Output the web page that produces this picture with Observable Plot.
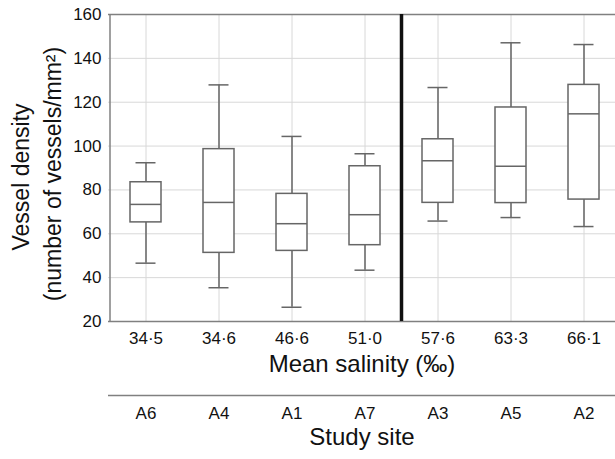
<!DOCTYPE html>
<html>
<head>
<meta charset="utf-8">
<script src="https://cdn.jsdelivr.net/npm/d3@7"></script>
<script src="https://cdn.jsdelivr.net/npm/@observablehq/plot@0.6"></script>
<style>
  html, body { margin: 0; padding: 0; background: #fff; }
</style>
</head>
<body>
<div id="chart"></div>
<script>
const sites = ["A6", "A4", "A1", "A7", "A3", "A5", "A2"];
const salinity = ["34·5", "34·6", "46·6", "51·0", "57·6", "63·3", "66·1"];
const whiskerLow = [46.6, 35.4, 26.5, 43.4, 65.8, 67.4, 63.3];
const q1 = [65.2, 51.3, 52.2, 54.8, 74.1, 74.0, 75.6];
const median = [73.4, 74.3, 64.6, 68.7, 93.3, 90.8, 114.7];
const q3 = [83.5, 98.6, 78.2, 90.8, 103.1, 117.6, 127.9];
const whiskerHigh = [92.4, 127.9, 104.4, 96.5, 126.7, 147.1, 146.3];
const yTicks = [20, 40, 60, 80, 100, 120, 140, 160];

const rows = sites.map((s, i) => ({
  site: s, lo: whiskerLow[i], q1: q1[i], med: median[i], q3: q3[i], hi: whiskerHigh[i]
}));

const boxStroke = "#666";
const frameStroke = "#808080";
const textColor = "#111";

const chart = Plot.plot({
  width: 615,
  height: 459,
  marginLeft: 108,
  marginRight: 0,
  marginTop: 14,
  marginBottom: 138,
  style: { fontFamily: "'Liberation Sans', Arial, sans-serif", fontSize: "17px", color: textColor, background: "#fff" },
  x: { type: "band", domain: sites, range: [108.5, 619.5], padding: 0 },
  y: { domain: [20, 160], range: [321, 14] },
  marks: [
    Plot.gridY(yTicks, { stroke: "#d8d8d8", strokeOpacity: 1 }),
    Plot.gridX(sites, { stroke: "#d8d8d8", strokeOpacity: 1 }),
    // frame
    Plot.ruleY([20, 160], { stroke: frameStroke, strokeWidth: 1.5 }),
    Plot.ruleX(["A6"], { x: d => d, dx: -36, y1: 20, y2: 160, stroke: frameStroke, strokeWidth: 1.5 }),
    // whiskers
    Plot.ruleX(rows, { x: "site", y1: "lo", y2: "q1", stroke: boxStroke, strokeWidth: 1.5 }),
    Plot.ruleX(rows, { x: "site", y1: "q3", y2: "hi", stroke: boxStroke, strokeWidth: 1.5 }),
    Plot.tickY(rows, { x: "site", y: "lo", stroke: boxStroke, strokeWidth: 1.5, insetLeft: 26.5, insetRight: 26.5 }),
    Plot.tickY(rows, { x: "site", y: "hi", stroke: boxStroke, strokeWidth: 1.5, insetLeft: 26.5, insetRight: 26.5 }),
    // boxes
    Plot.barY(rows, { x: "site", y1: "q1", y2: "q3", fill: "white", stroke: boxStroke, strokeWidth: 1.5, insetLeft: 21, insetRight: 21 }),
    Plot.tickY(rows, { x: "site", y: "med", stroke: boxStroke, strokeWidth: 1.5, insetLeft: 21, insetRight: 21 }),
    // thick separator
    Plot.ruleX(["A7"], { x: d => d, dx: 36.5, y1: 20, y2: 160, stroke: "#111", strokeWidth: 3.5 }),
    // axes
    Plot.axisY(yTicks, { tickSize: 0, tickPadding: 7, label: null, fontSize: 17 }),
    Plot.axisX({ tickSize: 0, tickPadding: 10, label: null, fontSize: 17, tickFormat: d => salinity[sites.indexOf(d)] }),
    Plot.ruleY([20], { dy: 74, stroke: frameStroke, strokeWidth: 1.5 }),
    Plot.axisX({ tickSize: 0, tickPadding: 10, dy: 75, label: null, fontSize: 17 }),
    // titles
    Plot.text(["Mean salinity (‰)"], { frameAnchor: "bottom", dy: 50, fontSize: 24, textAnchor: "middle", fill: textColor }),
    Plot.text(["Study site"], { frameAnchor: "bottom", dy: 123, fontSize: 24, textAnchor: "middle", fill: textColor }),
    Plot.text(["Vessel density"], { frameAnchor: "left", dx: -87, dy: 9, rotate: -90, fontSize: 23, textAnchor: "middle", lineAnchor: "middle", fill: textColor }),
    Plot.text(["(number of vessels/mm²)"], { frameAnchor: "left", dx: -55, dy: 6, rotate: -90, fontSize: 23, textAnchor: "middle", lineAnchor: "middle", fill: textColor })
  ]
});
document.getElementById("chart").appendChild(chart);
</script>
</body>
</html>
